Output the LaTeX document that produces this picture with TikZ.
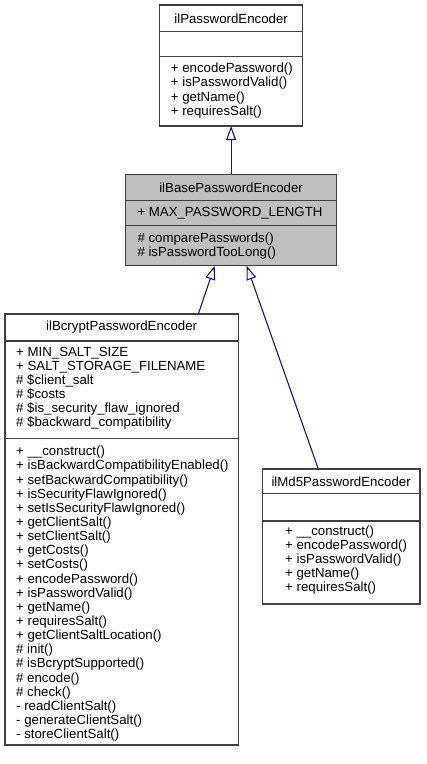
\documentclass[tikz,border=0pt]{standalone}
\usepackage{fontspec}
\setmainfont{Liberation Sans}
\usetikzlibrary{arrows.meta,calc}
\definecolor{edgeblue}{HTML}{191970}
\definecolor{boxline}{HTML}{404040}
\definecolor{basefill}{HTML}{BFBFBF}
\tikzset{
  umlbox/.style={draw=boxline, line width=1.2pt, fill=white, inner sep=0pt, outer sep=0pt, anchor=north west},
  txt/.style={font=\fontsize{13.25}{14.15}\selectfont, align=left, inner sep=0pt, anchor=west},
  ttl/.style={font=\fontsize{13.25}{14.15}\selectfont, inner sep=0pt, anchor=center},
  sepline/.style={draw=boxline, line width=1.2pt},
  inherit/.style={draw=edgeblue, line width=1.1pt, -{Triangle[open, length=14pt, width=10pt, fill=white]}}
}
\begin{document}
\begin{tikzpicture}[x=1pt,y=-1pt]
\useasboundingbox (0,0) rectangle (427,764);

% ilPasswordEncoder
\node[umlbox, minimum width=143.2pt, minimum height=121pt] (top) at (159.5,5) {};
\draw[sepline] (top.west |- 0,31.7) -- (top.east |- 0,31.7);
\draw[sepline] (top.west |- 0,56.7) -- (top.east |- 0,56.7);
\node[ttl] (topT) at (231.1,18.3) {ilPasswordEncoder};
\node[txt] (topM) at (170.7,90.6) {+ encodePassword()\\+ isPasswordValid()\\+ getName()\\+ requiresSalt()};

% ilBasePasswordEncoder
\node[umlbox, fill=basefill, minimum width=210.8pt, minimum height=91.4pt] (base) at (125.7,174.3) {};
\draw[sepline] (base.west |- 0,200.7) -- (base.east |- 0,200.7);
\draw[sepline] (base.west |- 0,225.7) -- (base.east |- 0,225.7);
\node[ttl] (baseT) at (231.1,187.5) {ilBasePasswordEncoder};
\node[txt] (baseA) at (137.3,213.2) {+ MAX\_PASSWORD\_LENGTH};
\node[txt] (baseM) at (137.3,246) {\# comparePasswords()\\\# isPasswordTooLong()};

% ilBcryptPasswordEncoder
\node[umlbox, minimum width=233.3pt, minimum height=431pt] (bcrypt) at (5,314) {};
\draw[sepline] (bcrypt.west |- 0,341) -- (bcrypt.east |- 0,341);
\draw[sepline] (bcrypt.west |- 0,438.3) -- (bcrypt.east |- 0,438.3);
\node[ttl] (bcryptT) at (121.6,327.5) {ilBcryptPasswordEncoder};
\node[txt] (bcryptA) at (16,388.2) {+ MIN\_SALT\_SIZE\\+ SALT\_STORAGE\_FILENAME\\\# \$client\_salt\\\# \$costs\\\# \$is\_security\_flaw\_ignored\\\# \$backward\_compatibility};
\node[txt] (bcryptM) at (16,593.8) {+ \_\_construct()\\+ isBackwardCompatibilityEnabled()\\+ setBackwardCompatibility()\\+ isSecurityFlawIgnored()\\+ setIsSecurityFlawIgnored()\\+ getClientSalt()\\+ setClientSalt()\\+ getCosts()\\+ setCosts()\\+ encodePassword()\\+ isPasswordValid()\\+ getName()\\+ requiresSalt()\\+ getClientSaltLocation()\\\# init()\\\# isBcryptSupported()\\\# encode()\\\# check()\\- readClientSalt()\\- generateClientSalt()\\- storeClientSalt()};

% ilMd5PasswordEncoder
\node[umlbox, minimum width=157.7pt, minimum height=135pt] (md5) at (262.3,469) {};
\draw[sepline] (md5.west |- 0,493.3) -- (md5.east |- 0,493.3);
\draw[sepline] (md5.west |- 0,521) -- (md5.east |- 0,521);
\node[ttl] (md5T) at (341.1,481.7) {ilMd5PasswordEncoder};
\node[txt] (md5M) at (285,560) {+ \_\_construct()\\+ encodePassword()\\+ isPasswordValid()\\+ getName()\\+ requiresSalt()};

% inheritance edges
\coordinate (bcIn) at ($(bcrypt.north west)+(193.3,0)$);
\coordinate (baseOutL) at ($(base.south west)+(89,0)$);
\coordinate (md5In) at ($(md5.north west)+(56,0)$);
\coordinate (baseOutR) at ($(base.south west)+(121,0)$);
\draw[inherit] (base.north) -- (top.south);
\draw[inherit] (bcIn) -- (baseOutL);
\draw[inherit] (md5In) -- (baseOutR);
\end{tikzpicture}
\end{document}
